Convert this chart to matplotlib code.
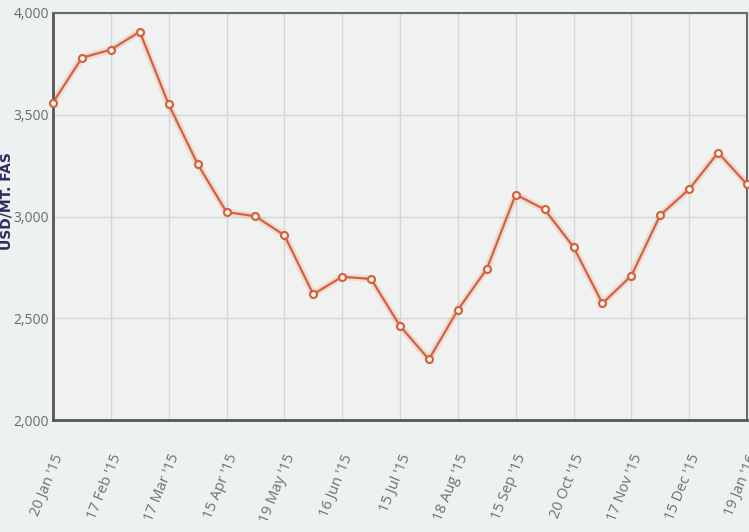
import matplotlib
matplotlib.use('Agg')
import matplotlib.pyplot as plt
import numpy as np

# fortnightly price points, USD/MT FAS
prices = [3560, 3780, 3820, 3908, 3551, 3258, 3022, 3001, 2908, 2618,
          2704, 2693, 2462, 2298, 2541, 2742, 3108, 3035, 2850, 2573,
          2709, 3007, 3134, 3314, 3158]
tick_labels = ["20 Jan '15", "17 Feb '15", "17 Mar '15", "15 Apr '15",
               "19 May '15", "16 Jun '15", "15 Jul '15", "18 Aug '15",
               "15 Sep '15", "20 Oct '15", "17 Nov '15", "15 Dec '15",
               "19 Jan '16"]
y_ticks = [2000, 2500, 3000, 3500, 4000]

plt.rcParams['font.family'] = ['Open Sans', 'DejaVu Sans']

bg = '#eef1f1'
line_col = '#d6623c'

fig = plt.figure(figsize=(7.49, 5.32), dpi=100, facecolor=bg)
ax = fig.add_axes([53/749, 1-420/532, 694/749, 407/532])
ax.set_facecolor('#f0f2f2')

x = np.arange(len(prices))
# soft glow under the line
ax.plot(x, prices, color=line_col, lw=5, alpha=0.15, solid_capstyle='round', zorder=2)
ax.plot(x, prices, color=line_col, lw=1.6, zorder=3,
        marker='o', markersize=5, markerfacecolor='white',
        markeredgecolor=line_col, markeredgewidth=1.6, clip_on=False)

ax.set_xlim(0, len(prices)-1)
ax.set_ylim(2000, 4000)
ax.set_xticks(x[::2])
ax.set_xticklabels(tick_labels, rotation=68, ha='right', rotation_mode='anchor',
                   fontsize=10.5, color='#707070')
ax.set_yticks(y_ticks)
ax.set_yticklabels(['{:,}'.format(v) for v in y_ticks], fontsize=10, color='#6a6a6a')
ax.tick_params(axis='x', length=0, pad=23)
ax.tick_params(axis='y', length=0, pad=3)

ax.grid(True, color='#d3d7d7', lw=1)
ax.set_axisbelow(True)
for side in ['left', 'bottom']:
    ax.spines[side].set_color('#555555')
    ax.spines[side].set_linewidth(2)
for side in ['top', 'right']:
    ax.spines[side].set_color('#6a6a6a')
    ax.spines[side].set_linewidth(1.5)

ax.set_ylabel('USD/MT. FAS', fontsize=10, fontweight='bold', color='#2e2d5e',
              family='DejaVu Sans')
ax.yaxis.set_label_coords(-0.057, 0.538)

plt.savefig('out.png', dpi=100, facecolor=bg)
